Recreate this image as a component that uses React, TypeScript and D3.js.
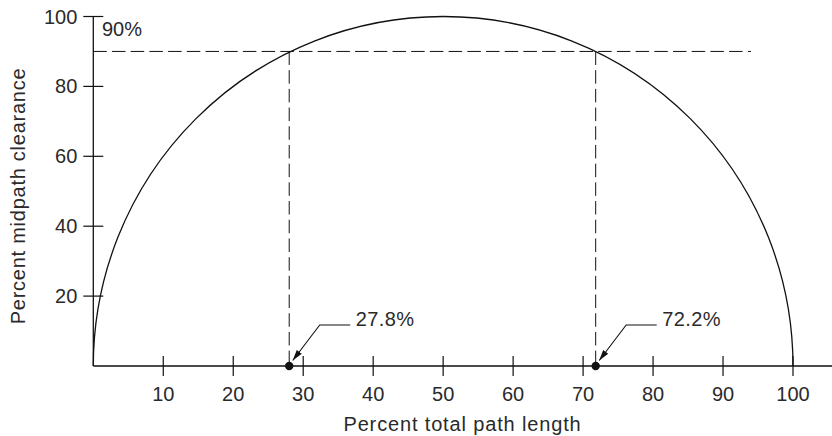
import React from "react";
import * as d3 from "d3";

const xTicks = [10, 20, 30, 40, 50, 60, 70, 80, 90, 100];
const yTicks = [20, 40, 60, 80, 100];
const arcSpan = [0, 100];
const arcPeak = 100;
const clearanceLevel = 90;
const clearanceLabel = "90%";
const clearanceLineEnd = 94;
const crossingsX = [28.0, 71.8];
const crossingLabels = ["27.8%", "72.2%"];
const xTitle = "Percent total path length";
const yTitle = "Percent midpath clearance";

const W = 832;
const H = 436;
const FONT = "'Liberation Sans', Arial, sans-serif";
const FS = 20;
const TEXT = "#2a2a2a";
const INK = "#111";

export default function App() {
  const x = d3.scaleLinear().domain([0, 100]).range([93.3, 793]);
  const y = d3.scaleLinear().domain([0, 100]).range([366, 16.5]);

  const rx = x(arcSpan[1]) - x((arcSpan[0] + arcSpan[1]) / 2);
  const ry = y(0) - y(arcPeak);
  const arcPath = `M${x(arcSpan[0])},${y(0)} A${rx},${ry} 0 0 1 ${x(arcSpan[1])},${y(0)}`;

  return (
    <svg
      width={W}
      height={H}
      style={{ position: "absolute", left: 0, top: 0, background: "#fff" }}
      fontFamily={FONT}
    >
      <defs>
        <marker id="ah" viewBox="0 0 12 10" refX="12" refY="5" markerWidth="11" markerHeight="9" markerUnits="userSpaceOnUse" orient="auto">
          <path d="M0,1.5 L12,5 L0,8.5 Z" fill={INK} />
        </marker>
      </defs>

      {/* curve */}
      <path d={arcPath} fill="none" stroke={INK} strokeWidth={1.3} />

      {/* 90% dashed horizontal */}
      <line
        x1={x(0)}
        x2={x(clearanceLineEnd)}
        y1={y(clearanceLevel)}
        y2={y(clearanceLevel)}
        stroke={INK}
        strokeWidth={1}
        strokeDasharray="13.5,5.2"
      />
      <text x={x(0) + 8.7} y={y(clearanceLevel) - 15.5} fontSize={FS} fill={TEXT}>
        {clearanceLabel}
      </text>

      {/* vertical dashed lines */}
      {crossingsX.map((cx, i) => (
        <line
          key={"v" + i}
          x1={x(cx)}
          x2={x(cx)}
          y1={y(clearanceLevel)}
          y2={y(0) - 4}
          stroke={INK}
          strokeWidth={1}
          strokeDasharray="13.5,5.2"
        />
      ))}

      {/* axes */}
      <line x1={x(0)} x2={W} y1={y(0)} y2={y(0)} stroke={INK} strokeWidth={1.3} />
      <line x1={x(0)} x2={x(0)} y1={y(0)} y2={y(100)} stroke={INK} strokeWidth={1.3} />

      {xTicks.map((t) => (
        <g key={"xt" + t}>
          <line x1={x(t)} x2={x(t)} y1={y(0) - 10} y2={y(0) + 10} stroke={INK} strokeWidth={1.2} />
          <text x={x(t)} y={y(0) + 35} fontSize={FS} fill={TEXT} textAnchor="middle">
            {t}
          </text>
        </g>
      ))}
      {yTicks.map((t) => (
        <g key={"yt" + t}>
          <line x1={x(0) - 10} x2={x(0) + 10} y1={y(t)} y2={y(t)} stroke={INK} strokeWidth={1.2} />
          <text x={x(0) - 16} y={y(t)} dy="0.35em" fontSize={FS} fill={TEXT} textAnchor="end">
            {t}
          </text>
        </g>
      ))}

      {/* points with callouts */}
      {crossingsX.map((cx, i) => {
        const px = x(cx);
        const py = y(0);
        return (
          <g key={"p" + i}>
            <circle cx={px} cy={py} r={4.2} fill={INK} />
            <polyline
              points={`${px + 61},${py - 41} ${px + 30.5},${py - 41} ${px + 3.5},${py - 5.5}`}
              fill="none"
              stroke={INK}
              strokeWidth={1.1}
              markerEnd="url(#ah)"
            />
            <text x={px + 66.5} y={py - 40} fontSize={FS} fill={TEXT} letterSpacing={0.4}>
              {crossingLabels[i]}
            </text>
          </g>
        );
      })}

      {/* titles */}
      <text x={462.5} y={431} fontSize={FS} fill={TEXT} textAnchor="middle" letterSpacing={0.85}>
        {xTitle}
      </text>
      <text
        transform={`translate(24.5,196) rotate(-90)`}
        fontSize={FS}
        fill={TEXT}
        textAnchor="middle"
        letterSpacing={0.75}
      >
        {yTitle}
      </text>
    </svg>
  );
}
